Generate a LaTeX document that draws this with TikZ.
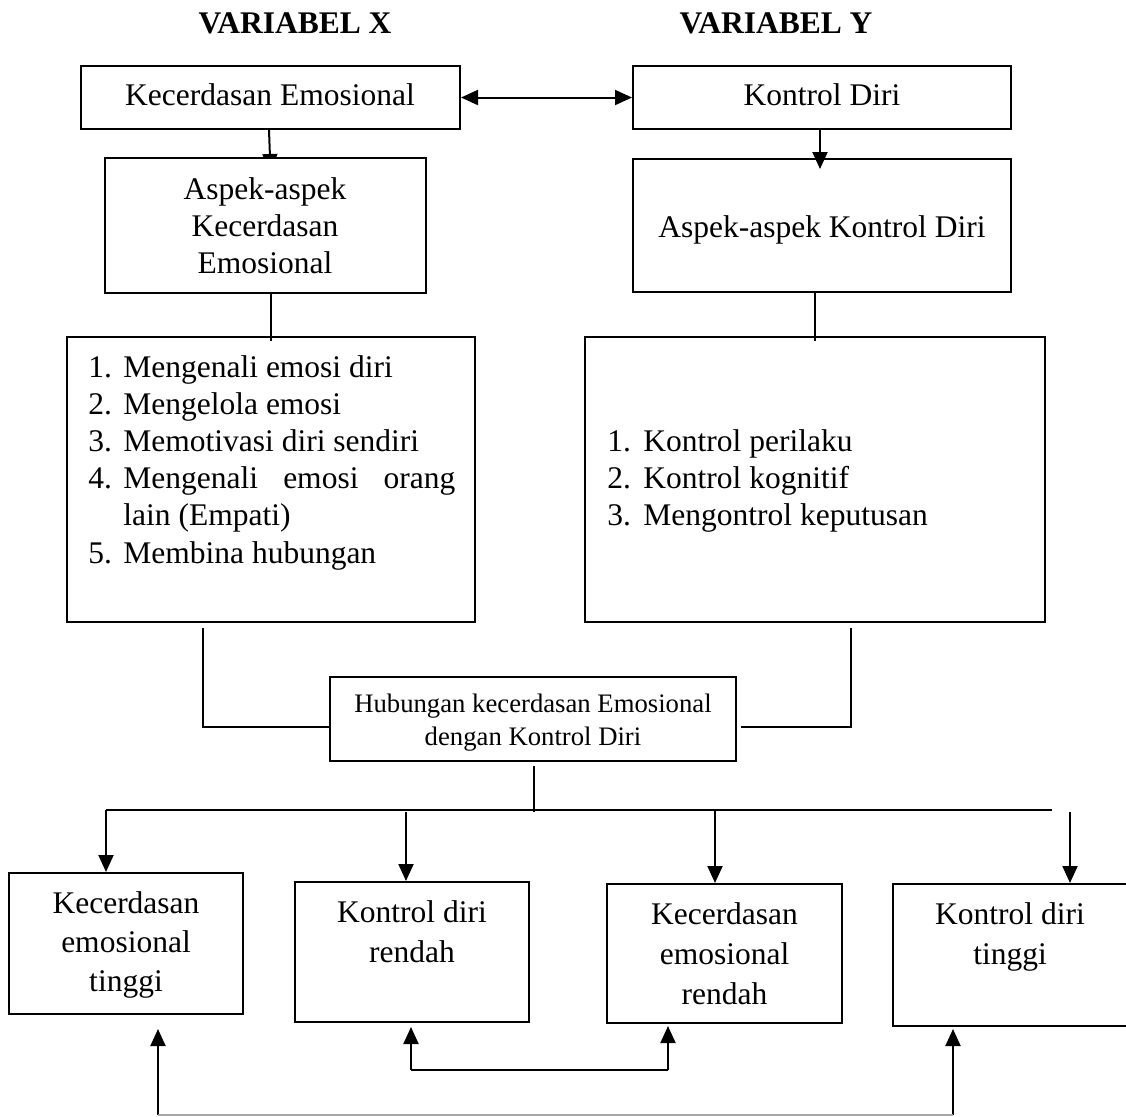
\documentclass[tikz,border=0pt]{standalone}
\usepackage{fontspec}
\setmainfont{Liberation Serif}
\usetikzlibrary{arrows.meta,calc}
\pgfdeclarelayer{bg}
\pgfsetlayers{bg,main}
\begin{document}
\begin{tikzpicture}[x=0.5pt,y=-0.5pt,
  box/.style={draw=black, line width=1pt, fill=white, rectangle, inner sep=0pt},
  txt/.style={font=\fontsize{15.75}{18}\selectfont, inner sep=0pt, anchor=base},
  txtl/.style={txt, anchor=base west},
  small/.style={font=\fontsize{13.35}{16}\selectfont, inner sep=0pt, anchor=base},
  head/.style={font=\fontsize{15.75}{18}\selectfont\bfseries, inner sep=0pt, anchor=base},
  arr/.style={line width=1pt, -{Triangle[length=8.5pt,width=7.5pt]}},
  darr/.style={line width=1pt, {Triangle[length=8.5pt,width=7.5pt]}-{Triangle[length=8.5pt,width=7.5pt]}},
  thin/.style={line width=0.6pt},
  bar/.style={line width=1pt},
  faint/.style={line width=0.7pt, draw=gray!70}]
\useasboundingbox (0,0) rectangle (1126,1116);

% headings
\node[head] (hx) at (295,33) {VARIABEL X};
\node[head] (hy) at (776,33) {VARIABEL Y};

% boxes
\node[box, minimum width=189.5pt, minimum height=31.5pt] (ke) at (270.5,97.5) {};
\node[box, minimum width=189pt, minimum height=31.5pt] (kd) at (822,97.5) {};
\node[box, minimum width=160.5pt, minimum height=67.5pt] (ake) at (265.5,225.5) {};
\node[box, minimum width=189pt, minimum height=66.5pt] (akd) at (822,225.5) {};
\node[box, minimum width=204pt, minimum height=142.5pt] (lke) at (271,479.5) {};
\node[box, minimum width=230pt, minimum height=142.5pt] (lkd) at (815,479.5) {};
\node[box, minimum width=203pt, minimum height=42pt] (hub) at (533,719) {};
\node[box, minimum width=117pt, minimum height=70.5pt] (b1) at (126,943.5) {};
\node[box, minimum width=117pt, minimum height=70pt] (b2) at (412,952) {};
\node[box, minimum width=117.5pt, minimum height=69.5pt] (b3) at (724.5,953.5) {};
\node[box, minimum width=117.5pt, minimum height=71pt] (b4) at (1010.5,955) {};

% texts
\node[txt] (tke) at (270,105) {Kecerdasan Emosional};
\node[txt] (tkd) at (822,105) {Kontrol Diri};
\node[txt] (take1) at (265,199) {Aspek-aspek};
\node[txt] (take2) at (265,236) {Kecerdasan};
\node[txt] (take3) at (265,273) {Emosional};
\node[txt] (takd) at (822,237) {Aspek-aspek Kontrol Diri};

\node[txtl] (n1) at (88,377) {1.};
\node[txtl] (i1) at (123,377) {Mengenali emosi diri};
\node[txtl] (n2) at (88,414) {2.};
\node[txtl] (i2) at (123,414) {Mengelola emosi};
\node[txtl] (n3) at (88,451) {3.};
\node[txtl] (i3) at (123,451) {Memotivasi diri sendiri};
\node[txtl] (n4) at (88,488) {4.};
\node[txtl] (i4) at (123,488) {\makebox[166pt][s]{Mengenali emosi orang}};
\node[txtl] (i4b) at (123,525) {lain (Empati)};
\node[txtl] (n5) at (88,563) {5.};
\node[txtl] (i5) at (123,563) {Membina hubungan};

\node[txtl] (m1) at (607,451) {1.};
\node[txtl] (j1) at (643,451) {Kontrol perilaku};
\node[txtl] (m2) at (607,488) {2.};
\node[txtl] (j2) at (643,488) {Kontrol kognitif};
\node[txtl] (m3) at (607,525) {3.};
\node[txtl] (j3) at (643,525) {Mengontrol keputusan};

\node[small] (th1) at (533,712) {Hubungan kecerdasan Emosional};
\node[small] (th2) at (533,745) {dengan Kontrol Diri};

\node[txt] (tb1a) at (126,913) {Kecerdasan};
\node[txt] (tb1b) at (126,952) {emosional};
\node[txt] (tb1c) at (126,991) {tinggi};
\node[txt] (tb2a) at (412,922) {Kontrol diri};
\node[txt] (tb2b) at (412,962) {rendah};
\node[txt] (tb3a) at (724.5,924) {Kecerdasan};
\node[txt] (tb3b) at (724.5,964) {emosional};
\node[txt] (tb3c) at (724.5,1004) {rendah};
\node[txt] (tb4a) at (1010,924) {Kontrol diri};
\node[txt] (tb4b) at (1010,964) {tinggi};

% free ends
\coordinate (barL) at (106,810);
\coordinate (barR) at (1052,810);
\coordinate (u2) at (411,1070);
\coordinate (u3) at (668,1070);
\coordinate (w1) at (158,1115);
\coordinate (w4) at (953,1115);

% arrow hidden behind box
\begin{pgfonlayer}{bg}
\draw[arr] ($(ke.south)+(-1.5,0)$) -- ([yshift=-7pt]ke.south |- ake.north);
\end{pgfonlayer}

% connectors
\draw[darr] (ke.east) -- (kd.west);
\draw[arr] ($(kd.south)+(-2,0)$) -- ([xshift=-1pt,yshift=-5.5pt]kd.south |- akd.north);
\draw[thin] (lke.north |- ake.south) -- ([yshift=-2.5pt]lke.north);
\draw[thin] (lkd.north |- akd.south) -- ([yshift=-2.5pt]lkd.north);
\draw[thin] ($(lke.south west)+(137,5)$) |- ($(hub.west)+(0,8)$);
\draw[thin] ($(lkd.south east)+(-195,5)$) |- ($(hub.east)+(4,8)$);
\draw[thin] ($(hub.south)+(1,4)$) -- ($(hub.south |- barL)+(1,2)$);
\draw[bar] (barL) -- (barR);
\draw[arr] (barL) -- (barL |- b1.north);
\draw[arr] ($(b2.north)+(-6,-69)$) -- ($(b2.north)+(-6,0)$);
\draw[arr] ($(b3.north)+(-9.5,-72)$) -- ($(b3.north)+(-9.5,0)$);
\draw[arr] ($(b4.north)+(59.5,-71)$) -- ($(b4.north)+(59.5,0)$);
\draw[arr] (u2) -- ([yshift=-2pt]u2 |- b2.south);
\draw[arr] (u3) -- ([yshift=-1pt]u3 |- b3.south);
\draw[line width=1.2pt] (u2) -- (u3);
\draw[arr] (w1) -- ([yshift=-7pt]w1 |- b1.south);
\draw[arr] (w4) -- ([yshift=-1pt]w4 |- b4.south);
\draw[faint] (w1) -- (w4);
\end{tikzpicture}
\end{document}
